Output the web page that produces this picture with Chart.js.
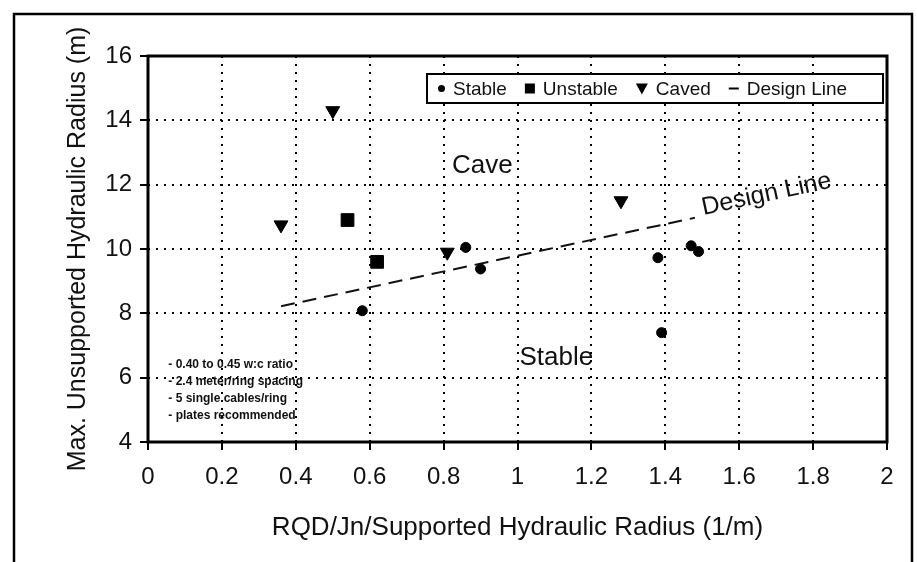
<!DOCTYPE html>
<html><head><meta charset="utf-8">
<script src="https://cdn.jsdelivr.net/npm/chart.js@4"></script>
<style>html,body{margin:0;padding:0;background:#fff;}#wrap{width:917px;height:562px;}</style>
</head><body><div id="wrap"><canvas id="c" width="917" height="562"></canvas></div>
<script>
// ---- data ----
const stableX   = [0.58, 0.86, 0.90, 1.38, 1.47, 1.49, 1.39];
const stableY   = [8.08, 10.05, 9.38, 9.73, 10.10, 9.92, 7.40];
const unstableX = [0.54, 0.62];
const unstableY = [10.90, 9.60];
const cavedX    = [0.36, 0.50, 0.81, 1.28];
const cavedY    = [10.75, 14.30, 9.90, 11.50];
const designX   = [0.36, 1.48];
const designY   = [8.22, 10.97];
const xTicks = [0, 0.2, 0.4, 0.6, 0.8, 1, 1.2, 1.4, 1.6, 1.8, 2];
const yTicks = [4, 6, 8, 10, 12, 14, 16];
const xTickLabels = ['0', '0.2', '0.4', '0.6', '0.8', '1', '1.2', '1.4', '1.6', '1.8', '2'];
const yTickLabels = ['4', '6', '8', '10', '12', '14', '16'];
const seriesNames = ['Stable', 'Unstable', 'Caved', 'Design Line'];
const xTitle = 'RQD/Jn/Supported Hydraulic Radius (1/m)';
const yTitle = 'Max. Unsupported Hydraulic Radius (m)';
const regionLabels = [{text: 'Cave', x: 0.905, y: 12.58}, {text: 'Stable', x: 1.105, y: 6.61}];
const noteLines = ['- 0.40 to 0.45 w:c ratio', '- 2.4 meter/ring spacing', '- 5 single cables/ring', '- plates recommended'];
const noteAnchor = {x: 0.055, y: 6.4};

const pts = (xs, ys) => xs.map((v, i) => ({x: v, y: ys[i]}));
const FONT = '"Liberation Sans", Arial, Helvetica, sans-serif';

const deco = {
  id: 'deco',
  beforeDraw(chart) {
    const ctx = chart.ctx;
    ctx.save(); ctx.fillStyle = '#fff'; ctx.fillRect(0, 0, chart.width, chart.height); ctx.restore();
  },
  afterDraw(chart) {
    const {ctx, chartArea: a, scales: {x, y}} = chart;
    ctx.save();
    // plot frame
    ctx.strokeStyle = '#000'; ctx.lineWidth = 3;
    ctx.strokeRect(a.left, a.top, a.right - a.left, a.bottom - a.top);
    // outer frame
    ctx.lineWidth = 2.5;
    ctx.beginPath(); ctx.moveTo(14, 562); ctx.lineTo(14, 14); ctx.lineTo(912, 14); ctx.lineTo(912, 562); ctx.stroke();

    ctx.fillStyle = '#111';
    // region labels
    ctx.font = '26px ' + FONT; ctx.textAlign = 'center'; ctx.textBaseline = 'middle';
    regionLabels.forEach(r => ctx.fillText(r.text, x.getPixelForValue(r.x), y.getPixelForValue(r.y)));

    // design line label
    const x1 = x.getPixelForValue(designX[0]), y1 = y.getPixelForValue(designY[0]);
    const x2 = x.getPixelForValue(designX[1]), y2 = y.getPixelForValue(designY[1]);
    const ang = Math.atan2(y2 - y1, x2 - x1);
    ctx.save();
    ctx.translate(x2 + 9 * Math.cos(ang), y2 + 9 * Math.sin(ang));
    ctx.rotate(ang);
    ctx.font = '25px ' + FONT; ctx.textAlign = 'left'; ctx.textBaseline = 'alphabetic';
    ctx.fillText(seriesNames[3], 0, -1);
    ctx.restore();

    // note
    ctx.font = 'bold 12px ' + FONT; ctx.textAlign = 'left'; ctx.textBaseline = 'middle';
    const nx = x.getPixelForValue(noteAnchor.x), ny = y.getPixelForValue(noteAnchor.y);
    noteLines.forEach((t, i) => ctx.fillText(t, nx, ny + i * 17));

    // legend box
    const bx = 427, by = 74, bw = 456, bh = 29, cy = by + bh / 2 + 1;
    ctx.fillStyle = '#fff'; ctx.fillRect(bx, by, bw, bh);
    ctx.lineWidth = 2; ctx.strokeStyle = '#000'; ctx.strokeRect(bx, by, bw, bh);
    ctx.fillStyle = '#111'; ctx.font = '19px ' + FONT; ctx.textBaseline = 'middle';
    let cx = 438;
    const symW = [7, 10, 12, 10];
    chart.data.datasets.forEach((ds, i) => {
      const w = symW[i];
      ctx.fillStyle = '#000'; ctx.strokeStyle = '#000';
      if (i === 0) { ctx.beginPath(); ctx.arc(cx + w / 2, cy - 1, 3.5, 0, Math.PI * 2); ctx.fill(); }
      else if (i === 1) { ctx.fillRect(cx, cy - 6, 10, 10); }
      else if (i === 2) { ctx.beginPath(); ctx.moveTo(cx, cy - 6); ctx.lineTo(cx + 12, cy - 6); ctx.lineTo(cx + 6, cy + 5); ctx.closePath(); ctx.fill(); }
      else { ctx.lineWidth = 2; ctx.beginPath(); ctx.moveTo(cx, cy - 1); ctx.lineTo(cx + 10, cy - 1); ctx.stroke(); }
      cx += w + 8;
      ctx.fillStyle = '#111';
      ctx.fillText(ds.label, cx, cy);
      cx += ctx.measureText(ds.label).width + 18;
    });
    ctx.restore();
  }
};

new Chart(document.getElementById('c'), {
  type: 'scatter',
  data: {
    datasets: [
      {label: seriesNames[0], data: pts(stableX, stableY), pointStyle: 'circle', pointRadius: 5, backgroundColor: '#000', borderColor: '#000'},
      {label: seriesNames[1], data: pts(unstableX, unstableY), pointStyle: 'rect', pointRadius: 9, backgroundColor: '#000', borderColor: '#000'},
      {label: seriesNames[2], data: pts(cavedX, cavedY), pointStyle: 'triangle', rotation: 180, pointRadius: 8, backgroundColor: '#000', borderColor: '#000'},
      {label: seriesNames[3], type: 'line', data: pts(designX, designY), showLine: true, borderColor: '#111', borderWidth: 2, borderDash: [14, 8], pointRadius: 0, fill: false}
    ]
  },
  options: {
    responsive: false, animation: false, devicePixelRatio: 1,
    layout: {padding: {left: 0, top: 56, right: 30, bottom: 0}},
    plugins: {legend: {display: false}, tooltip: {enabled: false}},
    scales: {
      x: {
        type: 'linear', min: 0, max: 2,
        afterBuildTicks: s => { s.ticks = xTicks.map(v => ({value: v})); },
        afterFit: s => { s.height = 120; },
        ticks: {color: '#111', font: {family: FONT, size: 24}, padding: 13, maxRotation: 0, autoSkip: false,
                callback: (v) => xTickLabels[xTicks.findIndex(t => Math.abs(t - v) < 1e-6)]},
        grid: {color: '#000', lineWidth: 2, tickBorderDash: [], tickColor: '#000', tickWidth: 2, tickLength: 8},
        border: {display: false, dash: [2, 6]},
        title: {display: true, text: xTitle, color: '#111', font: {family: FONT, size: 26}, padding: {top: 0, bottom: 19}}
      },
      y: {
        type: 'linear', min: 4, max: 16,
        afterBuildTicks: s => { s.ticks = yTicks.map(v => ({value: v})); },
        afterFit: s => { s.width = 148; },
        ticks: {color: '#111', font: {family: FONT, size: 24}, padding: 8, autoSkip: false,
                callback: (v) => yTickLabels[yTicks.findIndex(t => Math.abs(t - v) < 1e-6)]},
        grid: {color: '#000', lineWidth: 2, tickBorderDash: [], tickColor: '#000', tickWidth: 2, tickLength: 8},
        border: {display: false, dash: [2, 6]},
        title: {display: true, text: yTitle, color: '#111', font: {family: FONT, size: 25}, padding: {top: 63, bottom: 0}}
      }
    }
  },
  plugins: [deco]
});
</script></body></html>
